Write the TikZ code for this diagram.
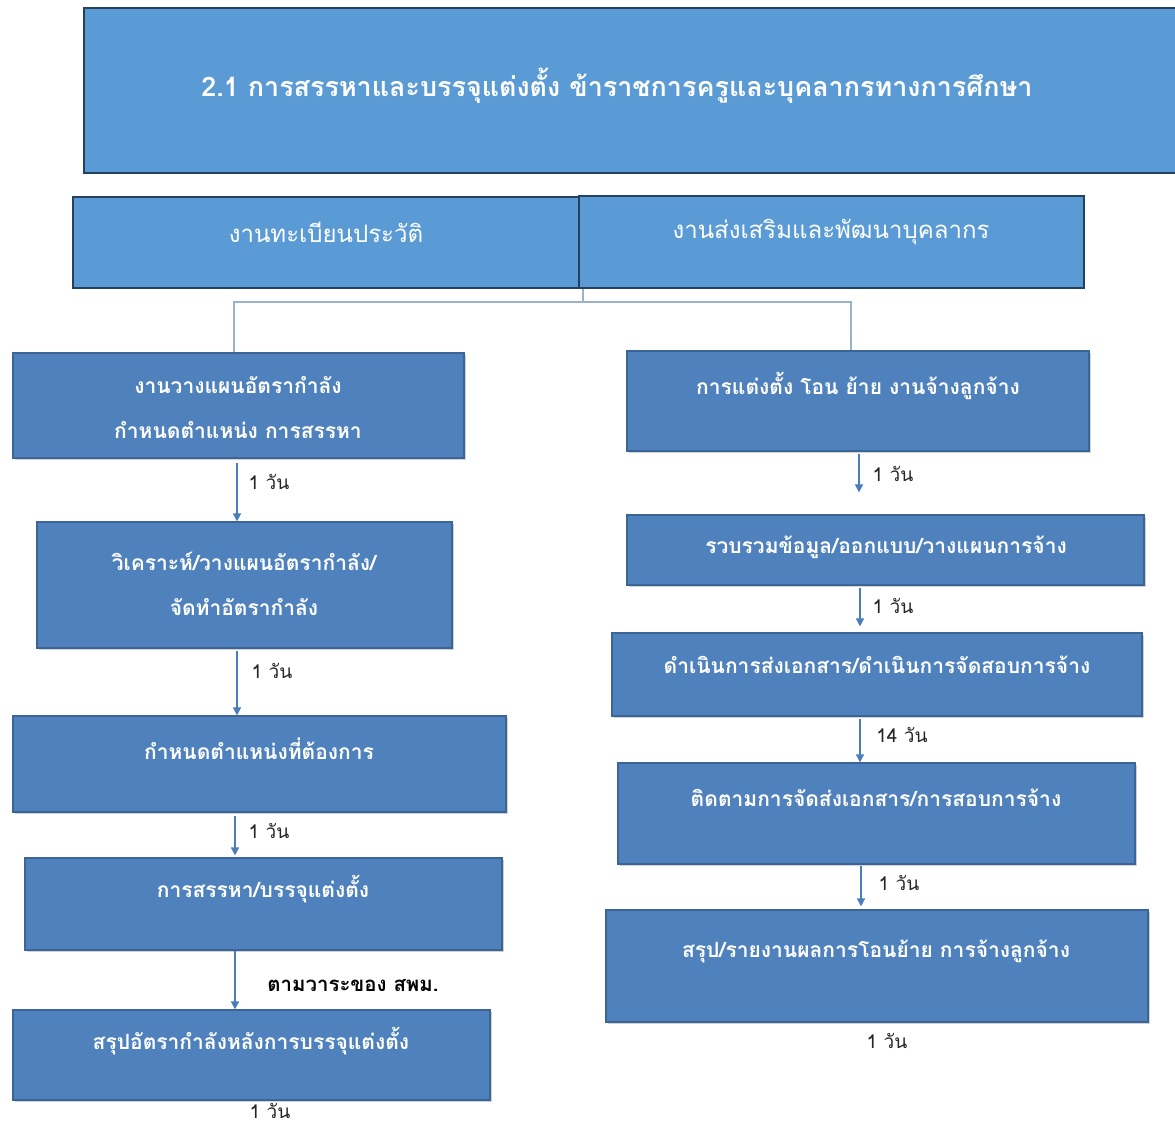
\documentclass[tikz,border=0pt]{standalone}
\usepackage{fontspec}
\newfontfamily\thai[Script=Thai]{Loma}
\usetikzlibrary{arrows.meta,shadows}
\definecolor{hdrfill}{HTML}{5B9BD5}
\definecolor{hdrline}{HTML}{24415F}
\definecolor{boxfill}{HTML}{4F81BD}
\definecolor{boxline}{HTML}{3A6596}
\definecolor{arrowc}{HTML}{4A7EBB}
\definecolor{linkc}{HTML}{9AB3CC}
\begin{document}
\begin{tikzpicture}[x=1pt,y=-1pt,
  hdrbox/.style={draw=hdrline,line width=2pt,fill=hdrfill,inner sep=0pt},
  flowbox/.style={draw=boxline,line width=1.2pt,fill=boxfill,inner sep=0pt,
    drop shadow={shadow xshift=1.5pt,shadow yshift=-2pt,opacity=0.3,fill=black!60}},
  hdrtxt/.style={text=white,font=\thai\bfseries\fontsize{26.9}{31}\selectfont},
  secttxt/.style={text=white,font=\thai\fontsize{24}{28}\selectfont},
  boxtxt/.style={text=white,align=center,font=\thai\bfseries\fontsize{21}{45}\selectfont},
  daytxt/.style={text=black!85,font=\thai\fontsize{19}{22}\selectfont},
  duetxt/.style={text=black,font=\thai\bfseries\fontsize{20.4}{24}\selectfont},
  link/.style={draw=linkc,line width=1.3pt},
  arr/.style={draw=arrowc,line width=1.5pt,-{Triangle[length=8pt,width=8pt]}}]
\useasboundingbox (0,0) rectangle (1175,1127);

% title banner
\node[hdrbox,minimum width=1101pt,minimum height=165pt] (hdr) at (634.5,90.5) {};
\node[hdrtxt] (hdrt) at (617,86) {2.1 การสรรหาและบรรจุแต่งตั้ง ข้าราชการครูและบุคลากรทางการศึกษา};

% the two sections
\node[hdrbox,minimum width=506pt,minimum height=91pt] (reg) at (326,242.5) {};
\node[secttxt] (regt) at (326,232) {งานทะเบียนประวัติ};
\node[hdrbox,minimum width=505pt,minimum height=92pt] (dev) at (831.5,242) {};
\node[secttxt] (devt) at (831,232) {งานส่งเสริมและพัฒนาบุคลากร};

% left column: registry work
\node[flowbox,minimum width=451pt,minimum height=105pt] (l1) at (238.5,405.5) {};
\node[boxtxt] (l1t) at (238,407) {งานวางแผนอัตรากำลัง\\กำหนดตำแหน่ง การสรรหา};
\node[flowbox,minimum width=415pt,minimum height=126pt] (l2) at (244.5,585) {};
\node[boxtxt] (l2t) at (244,584) {วิเคราะห์/วางแผนอัตรากำลัง/\\จัดทำอัตรากำลัง};
\node[flowbox,minimum width=493pt,minimum height=96pt] (l3) at (259.5,764) {};
\node[boxtxt] (l3t) at (259,749) {กำหนดตำแหน่งที่ต้องการ};
\node[flowbox,minimum width=477pt,minimum height=92pt] (l4) at (263.5,904) {};
\node[boxtxt] (l4t) at (263,889) {การสรรหา/บรรจุแต่งตั้ง};
\node[flowbox,minimum width=477pt,minimum height=90pt] (l5) at (251.5,1055) {};
\node[boxtxt] (l5t) at (251,1041) {สรุปอัตรากำลังหลังการบรรจุแต่งตั้ง};

% right column: personnel development work
\node[flowbox,minimum width=462pt,minimum height=100pt] (r1) at (858,401) {};
\node[boxtxt] (r1t) at (858,386) {การแต่งตั้ง โอน ย้าย งานจ้างลูกจ้าง};
\node[flowbox,minimum width=517pt,minimum height=70pt] (r2) at (885.5,550) {};
\node[boxtxt] (r2t) at (886,547) {รวบรวมข้อมูล/ออกแบบ/วางแผนการจ้าง};
\node[flowbox,minimum width=530pt,minimum height=83pt] (r3) at (877,674.5) {};
\node[boxtxt] (r3t) at (877,665) {ดำเนินการส่งเอกสาร/ดำเนินการจัดสอบการจ้าง};
\node[flowbox,minimum width=517pt,minimum height=101pt] (r4) at (876.5,813.5) {};
\node[boxtxt] (r4t) at (876,798) {ติดตามการจัดส่งเอกสาร/การสอบการจ้าง};
\node[flowbox,minimum width=542pt,minimum height=112pt] (r5) at (877,966) {};
\node[boxtxt] (r5t) at (876,951) {สรุป/รายงานผลการโอนย้าย การจ้างลูกจ้าง};

% branching link from the sections to both columns
\coordinate (hub) at (583,302);
\coordinate (lx) at (234,0);
\coordinate (rx) at (851,0);
\draw[link] (hub |- reg.south) -- (hub);
\draw[link] (l1.north -| lx) |- (hub) -| (r1.north -| rx);

% left column arrows
\coordinate (la) at (237,0);
\coordinate (lb) at (235,0);
\draw[arr,shorten <=4pt] (l1.south -| la) -- (l2.north -| la);
\draw[arr,shorten <=2pt] (l2.south -| la) -- (l3.north -| la);
\draw[arr,shorten <=3pt,shorten >=2pt] (l3.south -| lb) -- (l4.north -| lb);
\draw[arr] (l4.south -| lb) -- (l5.north -| lb);

% right column arrows
\coordinate (ra) at (859,0);
\coordinate (rb) at (860,0);
\coordinate (rc) at (861,0);
\draw[arr,shorten <=2pt,shorten >=22pt] (r1.south -| ra) -- (r2.north -| ra);
\draw[arr,shorten <=2pt,shorten >=6pt] (r2.south -| rb) -- (r3.north -| rb);
\draw[arr,shorten <=2pt] (r3.south -| rb) -- (r4.north -| rb);
\draw[arr,shorten <=1pt,shorten >=3pt] (r4.south -| rc) -- (r5.north -| rc);

% durations
\node[daytxt] (d1) at (269,482) {1 วัน};
\node[daytxt] (d2) at (272,671) {1 วัน};
\node[daytxt] (d3) at (269,831) {1 วัน};
\node[duetxt] (d4) at (353,986) {ตามวาระของ สพม.};
\node[daytxt] (d5) at (270,1111) {1 วัน};
\node[daytxt] (e1) at (893,474) {1 วัน};
\node[daytxt] (e2) at (893,606) {1 วัน};
\node[daytxt] (e3) at (902,735) {14 วัน};
\node[daytxt] (e4) at (899,883) {1 วัน};
\node[daytxt] (e5) at (887,1041) {1 วัน};
\end{tikzpicture}
\end{document}
